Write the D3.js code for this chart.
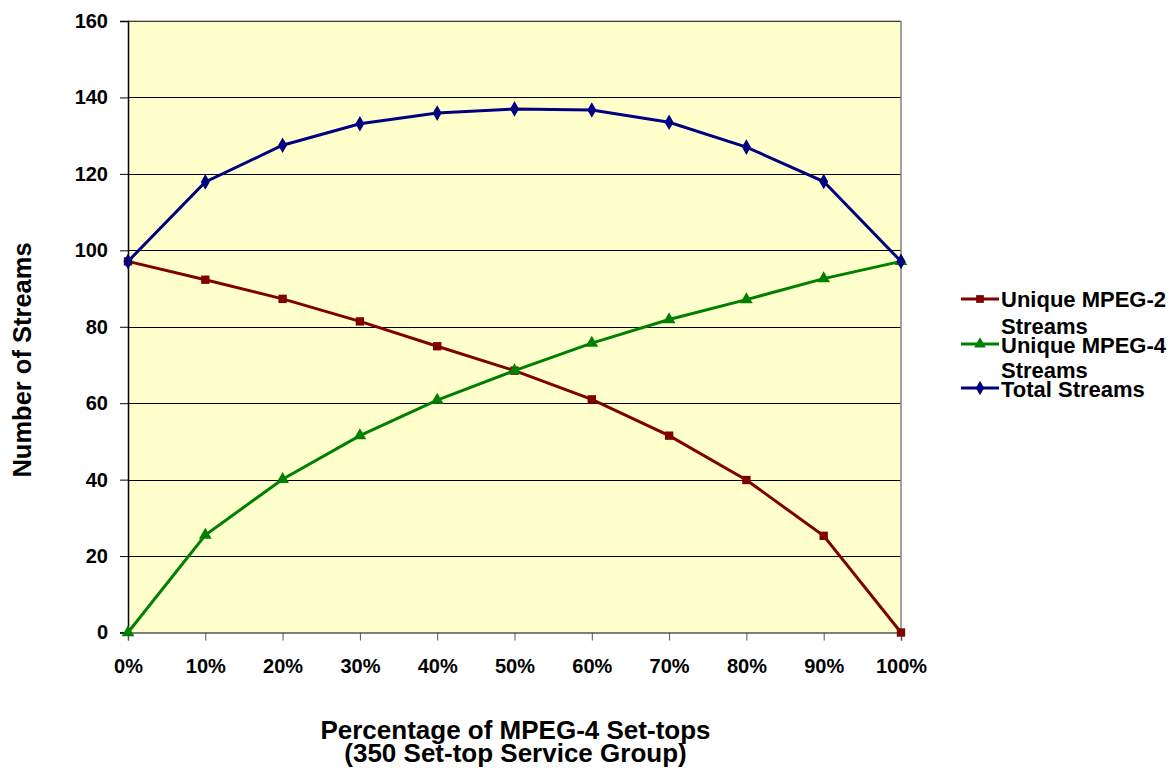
<!DOCTYPE html>
<html><head><meta charset="utf-8">
<script src="https://cdn.jsdelivr.net/npm/d3@7"></script>
<style>body{margin:0;background:#fff;} text{font-family:"Liberation Sans",Arial,sans-serif;font-weight:bold;}</style>
</head><body>
<svg id="c" width="1172" height="768"></svg>
<script>
const categories = ["0%","10%","20%","30%","40%","50%","60%","70%","80%","90%","100%"];
const mpeg2 = [97.1,92.3,87.3,81.4,74.9,68.5,61.0,51.5,39.9,25.3,0];
const mpeg4 = [0,25.5,40.1,51.5,60.8,68.5,75.7,81.9,87.1,92.6,97.1];
const total = [97.1,117.9,127.5,133.1,135.9,137.0,136.7,133.5,127.0,118.0,97.1];
const yTicks = [0,20,40,60,80,100,120,140,160];
const seriesNames = ["Unique MPEG-2 Streams","Unique MPEG-4 Streams","Total Streams"];

const svg = d3.select("#c");
const L=128, R=901, T=21, B=632.5;
const x = d3.scalePoint().domain(categories).range([L,R]);
const y = d3.scaleLinear().domain([0,160]).range([B,T]);

svg.append("rect").attr("x",L).attr("y",T).attr("width",R-L).attr("height",B-T).attr("fill","#FFFFCC");
// gridlines
svg.append("g").selectAll("line").data(yTicks.filter(d=>d>0)).join("line")
  .attr("x1",L).attr("x2",R).attr("y1",d=>Math.round(y(d))+0.5).attr("y2",d=>Math.round(y(d))+0.5)
  .attr("stroke","#000").attr("stroke-width",1);
// plot border
svg.append("line").attr("x1",L).attr("x2",R).attr("y1",T).attr("y2",T).attr("stroke","#808080");
svg.append("line").attr("x1",R).attr("x2",R).attr("y1",T).attr("y2",B).attr("stroke","#808080").attr("stroke-width",1.5);

const FF = "Liberation Sans, Arial, sans-serif";
// axes
const yAxis = d3.axisLeft(y).tickValues(yTicks).tickSize(8).tickPadding(12);
const gy = svg.append("g").attr("transform",`translate(${L},0)`).call(yAxis);
gy.select(".domain").attr("stroke","#000").attr("stroke-width",1.5);
gy.selectAll(".tick line").attr("stroke","#000");
gy.selectAll("text").attr("font-size",20).attr("fill","#000").style("font-family",FF).style("font-weight","bold");

const xAxis = d3.axisBottom(x).tickSize(8).tickPadding(18);
const gx = svg.append("g").attr("transform",`translate(0,${B})`).call(xAxis);
gx.select(".domain").attr("stroke","#555").attr("stroke-width",1.5);
gx.selectAll(".tick line").attr("stroke","#555");
gx.selectAll("text").attr("font-size",20).attr("fill","#000").style("font-family",FF).style("font-weight","bold");

const series = [
  {name:seriesNames[0], values:mpeg2, color:"#800000", shape:d3.symbolSquare, size:70},
  {name:seriesNames[1], values:mpeg4, color:"#008000", shape:d3.symbolTriangle, size:70},
  {name:seriesNames[2], values:total, color:"#000080", shape:d3.symbolDiamond, size:70}
];
const line = d3.line().x((d,i)=>x(categories[i])).y(d=>y(d));
series.forEach(s=>{
  svg.append("path").datum(s.values).attr("d",line).attr("fill","none").attr("stroke",s.color).attr("stroke-width",3);
  svg.append("g").selectAll("path").data(s.values).join("path")
    .attr("transform",(d,i)=>`translate(${x(categories[i])},${y(d)})`)
    .attr("d",d3.symbol().type(s.shape).size(s.size)).attr("fill",s.color);
});

// legend
const leg = [
  {s:series[0], ly:299, base:[307,334], lines:["Unique MPEG-2","Streams"]},
  {s:series[1], ly:344, base:[353,378], lines:["Unique MPEG-4","Streams"]},
  {s:series[2], ly:388, base:[397], lines:["Total Streams"]}
];
leg.forEach(l=>{
  const g = svg.append("g");
  g.append("line").attr("x1",961).attr("x2",999).attr("y1",l.ly).attr("y2",l.ly).attr("stroke",l.s.color).attr("stroke-width",3);
  g.append("path").attr("transform",`translate(980,${l.ly})`).attr("d",d3.symbol().type(l.s.shape).size(60)).attr("fill",l.s.color);
  l.lines.forEach((t,i)=>{
    g.append("text").attr("x",1001).attr("y",l.base[i]).attr("font-size",22).attr("fill","#000").text(t);
  });
});

// axis titles
svg.append("text").attr("transform","translate(31,360) rotate(-90)").attr("text-anchor","middle").attr("font-size",25.5).text("Number of Streams");
svg.append("text").attr("x",515.5).attr("y",739).attr("text-anchor","middle").attr("font-size",26).text("Percentage of MPEG-4 Set-tops");
svg.append("text").attr("x",515.5).attr("y",762).attr("text-anchor","middle").attr("font-size",26).text("(350 Set-top Service Group)");
</script>
</body></html>
